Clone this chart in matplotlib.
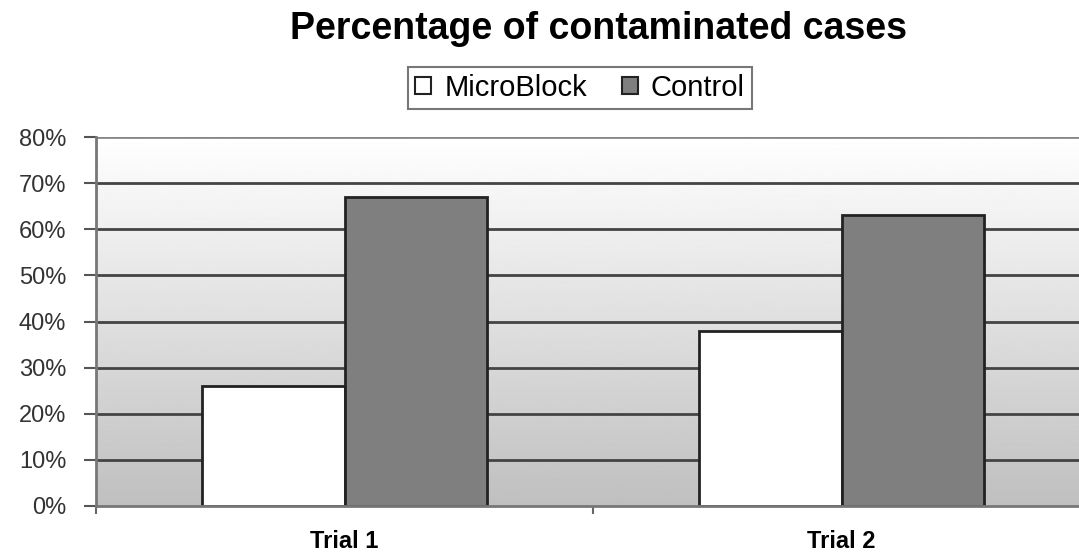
import numpy as np
import matplotlib.pyplot as plt

plt.rcParams["font.family"] = ["Liberation Sans", "DejaVu Sans"]

categories = ["Trial 1", "Trial 2"]
microblock = [26, 38]
control = [67, 63]
yticks = [0, 10, 20, 30, 40, 50, 60, 70, 80]


def main():
    fig = plt.figure(figsize=(10.79, 5.56), dpi=100)
    ax = fig.add_axes([96 / 1079, 1 - 506 / 556, 994 / 1079, 369 / 556])

    x = np.arange(len(categories))
    w = 0.286

    # gradient background, white at top to grey at bottom
    grad = np.linspace(1.0, 0.75, 256).reshape(-1, 1)
    ax.imshow(grad, extent=[-0.5, 1.5, 0, 80], aspect="auto", cmap="gray",
              vmin=0, vmax=1, zorder=0, origin="upper")

    for t in yticks[1:]:
        c = "#888888" if t == 80 else "#444444"
        ax.axhline(t, color=c, lw=2, zorder=1)

    ax.bar(x - w / 2, microblock, w, color="white", edgecolor="#222222",
           lw=2, label="MicroBlock", zorder=2)
    ax.bar(x + w / 2, control, w, color="#7f7f7f", edgecolor="#222222",
           lw=2, label="Control", zorder=2)

    ax.set_xlim(-0.5, 1.5)
    ax.set_ylim(0, 80)
    ax.set_yticks(yticks)
    ax.set_yticklabels([f"{t}%" for t in yticks], fontsize=17, color="#333333")
    ax.set_xticks([-0.5, 0.5, 1.5], minor=False)
    ax.set_xticklabels([])
    ax.set_xticks(x, minor=True)
    ax.set_xticklabels(categories, minor=True, fontsize=17, fontweight="bold")
    ax.tick_params(axis="x", which="minor", length=0, pad=17)
    ax.tick_params(axis="x", which="major", length=6, width=1.5, color="#666666", direction="out")
    ax.tick_params(axis="y", length=8.5, width=1.5, color="#555555", pad=13)

    for s in ["top", "right"]:
        ax.spines[s].set_visible(False)
    ax.spines["left"].set_color("#777777")
    ax.spines["left"].set_linewidth(2)
    ax.spines["bottom"].set_color("#777777")
    ax.spines["bottom"].set_linewidth(2)

    fig.text(598 / 1079, 1 - 29 / 556, "Percentage of contaminated cases",
             ha="center", va="center", fontsize=27, fontweight="bold")
    leg = fig.legend(loc="center", bbox_to_anchor=(580 / 1079, 1 - 88 / 556),
                     ncol=2, frameon=True, fancybox=False, fontsize=21,
                     handlelength=0.55, handleheight=0.55, columnspacing=1.2,
                     handletextpad=0.45, borderpad=0.25, borderaxespad=0)
    leg.get_frame().set_edgecolor("#555555")
    leg.get_frame().set_linewidth(1.5)
    for h in leg.legend_handles:
        h.set_linewidth(1.5)

    fig.savefig("out.png", dpi=100)


if __name__ == "__main__":
    main()
